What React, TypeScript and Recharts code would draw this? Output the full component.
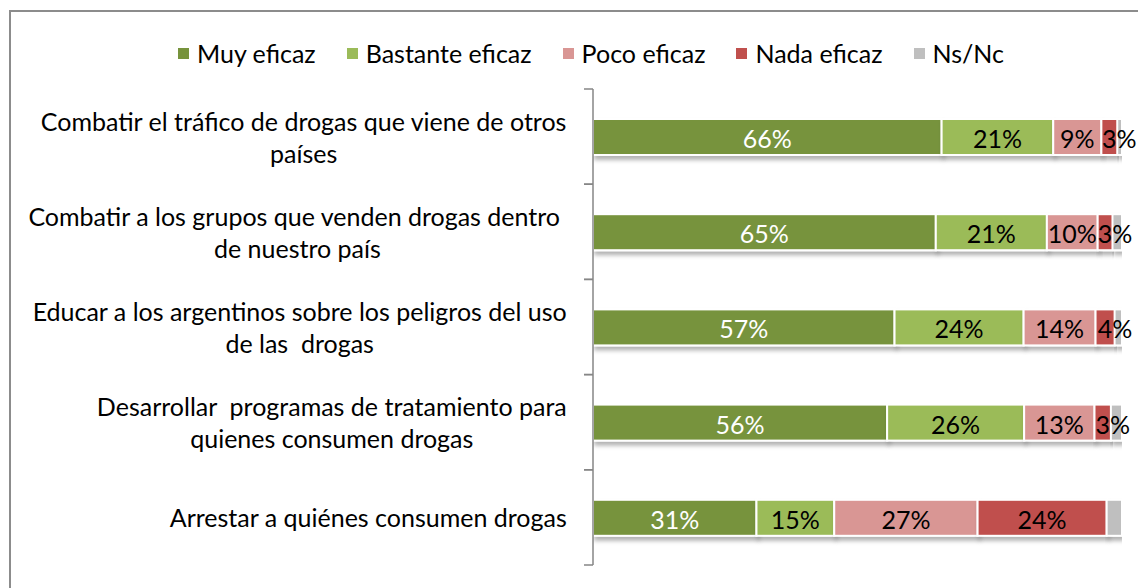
import type { ReactElement } from 'react';
import { Bar, BarChart, LabelList, XAxis, YAxis } from 'recharts';

// categories (line breaks as wrapped in the original chart)
const categories = [
  'Combatir el tráfico de drogas que viene de otros\npaíses',
  'Combatir a los grupos que venden drogas dentro \nde nuestro país',
  'Educar a los argentinos sobre los peligros del uso\nde las  drogas',
  'Desarrollar  programas de tratamiento para\nquienes consumen drogas',
  'Arrestar a quiénes consumen drogas',
];

// percentages
const muyEficaz = [65.9, 64.8, 57.0, 55.6, 30.9];
const bastanteEficaz = [21.1, 21.0, 24.4, 25.9, 14.7];
const pocoEficaz = [9.1, 9.6, 13.6, 13.3, 27.1];
const nadaEficaz = [3.0, 2.8, 3.6, 3.1, 24.4];
const nsNc = [0.9, 1.8, 1.4, 2.1, 2.9];

const seriesNames = ['Muy eficaz', 'Bastante eficaz', 'Poco eficaz', 'Nada eficaz', 'Ns/Nc'];

const FONT = 'Lato, "Open Sans", sans-serif';
const TEXT_SIZE = 25;
const LINE_H = 32;
const CHART_W = 1138;
const CHART_H = 588;
const MARGIN = { top: 89, right: 16, bottom: 23, left: 0 };
const Y_AXIS_W = 593;
const AXIS_X = MARGIN.left + Y_AXIS_W;
const LABEL_RIGHT = AXIS_X - 26;
const AXIS_COLOR = '#868686';

const series = [
  { key: 'muy', name: seriesNames[0], values: muyEficaz, color: '#77933C', text: '#ffffff', label: true },
  { key: 'bastante', name: seriesNames[1], values: bastanteEficaz, color: '#9BBB59', text: '#000000', label: true },
  { key: 'poco', name: seriesNames[2], values: pocoEficaz, color: '#D99694', text: '#000000', label: true },
  { key: 'nada', name: seriesNames[3], values: nadaEficaz, color: '#C0504D', text: '#000000', label: true },
  { key: 'ns', name: seriesNames[4], values: nsNc, color: '#BFBFBF', text: '#000000', label: false },
];

const data = categories.map((name, i) => {
  const row: Record<string, string | number> = { name };
  series.forEach((s) => {
    row[s.key] = s.values[i];
  });
  return row;
});

let ctx: CanvasRenderingContext2D | null = null;
function textWidth(s: string): number {
  if (!ctx) ctx = document.createElement('canvas').getContext('2d');
  if (!ctx) return s.length * TEXT_SIZE * 0.5;
  ctx.font = `${TEXT_SIZE}px Lato`;
  return ctx.measureText(s).width;
}

function CategoryTick(props: any): ReactElement {
  const { y, payload } = props;
  const lines = String(payload.value).split('\n');
  const maxW = Math.max(...lines.map(textWidth));
  const cx = LABEL_RIGHT - maxW / 2;
  const top = y - ((lines.length - 1) * LINE_H) / 2;
  const half = payload.offset || (CHART_H - MARGIN.top - MARGIN.bottom) / categories.length / 2;
  return (
    <g>
      <line x1={AXIS_X - 9} x2={AXIS_X} y1={y - half} y2={y - half} stroke={AXIS_COLOR} strokeWidth={1.5} />
      <line x1={AXIS_X - 9} x2={AXIS_X} y1={y + half} y2={y + half} stroke={AXIS_COLOR} strokeWidth={1.5} />
      {lines.map((line, i) => (
        <text
          key={i}
          x={cx}
          y={top + i * LINE_H}
          textAnchor="middle"
          dominantBaseline="central"
          fontFamily={FONT}
          fontSize={TEXT_SIZE}
          fill="#000"
          style={{ whiteSpace: 'pre' }}
        >
          {line}
        </text>
      ))}
    </g>
  );
}

function makeLabel(color: string) {
  return function SegmentLabel(props: any): ReactElement | null {
    const { x, y, width, height, value } = props;
    if (value == null) return null;
    // narrow segments: Excel pushes the text a little to the right
    const cx = x + width / 2 + (width < 30 ? 10 : 0);
    return (
      <text
        x={cx}
        y={y + height / 2 + 1}
        textAnchor="middle"
        dominantBaseline="central"
        fontFamily={FONT}
        fontSize={TEXT_SIZE}
        fill={color}
      >
        {`${Math.round(Number(value))}%`}
      </text>
    );
  };
}

function SegmentShape(props: any): ReactElement {
  const { x, y, width, height, fill } = props;
  return (
    <rect
      x={x}
      y={y}
      width={Math.max(width, 0)}
      height={height}
      fill={fill}
      stroke="#ffffff"
      strokeWidth={2}
      filter="url(#barShadow)"
    />
  );
}

function ChartLegend(): ReactElement {
  return (
    <div
      style={{
        position: 'absolute',
        top: 38,
        left: 0,
        width: 1182,
        display: 'flex',
        justifyContent: 'center',
        gap: 31,
        fontFamily: FONT,
        fontSize: TEXT_SIZE,
        color: '#000',
        lineHeight: '30px',
      }}
    >
      {series.map((s) => (
        <div key={s.key} style={{ display: 'flex', alignItems: 'center', gap: 8 }}>
          <span style={{ width: 11, height: 11, background: s.color, display: 'inline-block' }} />
          <span>{s.name}</span>
        </div>
      ))}
    </div>
  );
}

export default function App(): ReactElement {
  return (
    <div
      style={{
        position: 'absolute',
        left: 0,
        top: 0,
        width: CHART_W,
        height: CHART_H,
        overflow: 'hidden',
        background: '#fff',
      }}
    >
      <div
        style={{
          position: 'absolute',
          left: 9,
          top: 10,
          width: 1300,
          height: 800,
          border: '2px solid #8c8c8c',
          boxSizing: 'border-box',
        }}
      />
      <ChartLegend />
      <div style={{ position: 'absolute', left: 0, top: 0 }}>
        <BarChart
          width={CHART_W}
          height={CHART_H}
          data={data}
          layout="vertical"
          margin={MARGIN}
          barSize={36}
        >
          <defs>
            <filter id="barShadow" x="-5%" y="-20%" width="115%" height="160%">
              <feDropShadow dx={2} dy={4} stdDeviation={2} floodColor="#000" floodOpacity={0.3} />
            </filter>
          </defs>
          <XAxis type="number" domain={[0, 100]} allowDataOverflow hide />
          <YAxis
            type="category"
            dataKey="name"
            width={Y_AXIS_W}
            axisLine={{ stroke: AXIS_COLOR, strokeWidth: 1.5 }}
            tickLine={false}
            tick={<CategoryTick />}
            interval={0}
          />
          {series.map((s) => (
            <Bar
              key={s.key}
              dataKey={s.key}
              name={s.name}
              stackId="a"
              fill={s.color}
              shape={<SegmentShape />}
              isAnimationActive={false}
            >
              {s.label && <LabelList dataKey={s.key} content={makeLabel(s.text)} />}
            </Bar>
          ))}
        </BarChart>
      </div>
    </div>
  );
}
